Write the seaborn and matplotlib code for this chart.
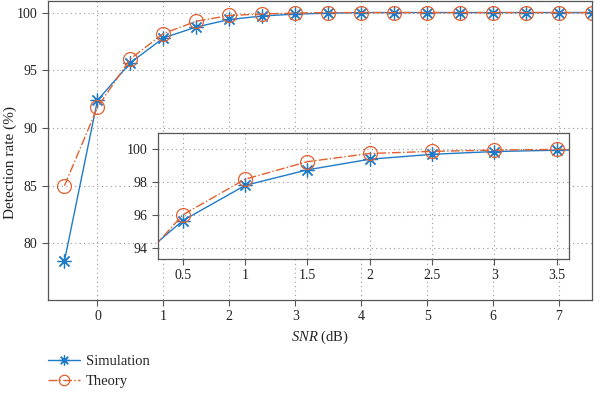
import numpy as np
import pandas as pd
import matplotlib
matplotlib.use('Agg')
import matplotlib.pyplot as plt
import seaborn as sns

# SNR grid (dB) and detection rates (%)
snr = [-0.5, 0, 0.5, 1, 1.5, 2, 2.5, 3, 3.5, 4, 4.5, 5, 5.5, 6, 6.5, 7, 7.5]
simulation = [78.5, 92.4, 95.65, 97.8, 98.75, 99.4, 99.7, 99.87, 99.95,
              100, 100, 100, 100, 100, 100, 100, 100]
theory = [85.0, 91.8, 96.0, 98.18, 99.25, 99.75, 99.88, 99.96, 100,
          100, 100, 100, 100, 100, 100, 100, 100]

main_xticks = [0, 1, 2, 3, 4, 5, 6, 7]
main_yticks = [80, 85, 90, 95, 100]
inset_xticks = [0.5, 1, 1.5, 2, 2.5, 3, 3.5]
inset_xlabels = ['0.5', '1', '1.5', '2', '2.5', '3', '3.5']
inset_yticks = [94, 96, 98, 100]

blue = '#1f7bc8'
orange = '#e3602f'

df = pd.DataFrame({'snr': snr, 'Simulation': simulation, 'Theory': theory})

sns.set_style('ticks')
plt.rcParams['font.family'] = ['Liberation Serif', 'DejaVu Serif']
plt.rcParams['mathtext.fontset'] = 'custom'
plt.rcParams['mathtext.it'] = 'Liberation Serif:italic'
plt.rcParams['mathtext.rm'] = 'Liberation Serif'
plt.rcParams['font.size'] = 10

fig = plt.figure(figsize=(6, 3.96), dpi=100)
ax = fig.add_axes([0.08, 0.2424, 0.9067, 0.755])


def draw(a, ms):
    sns.lineplot(data=df, x='snr', y='Simulation', ax=a, color=blue, lw=1,
                 marker=(8, 2, 0), markersize=ms, markeredgewidth=0.9,
                 markeredgecolor=blue, label='Simulation', clip_on=True)
    sns.lineplot(data=df, x='snr', y='Theory', ax=a, color=orange, lw=1,
                 linestyle='-.', marker='o', markersize=ms,
                 markerfacecolor='none', markeredgecolor=orange,
                 markeredgewidth=0.9, label='Theory')


def style(a):
    a.grid(True, linestyle=(0, (1, 3)), color='#999999', linewidth=0.8)
    for s in a.spines.values():
        s.set_color('#555555')
        s.set_linewidth(0.9)
    a.tick_params(direction='out', length=4, width=0.8, color='#555555',
                  labelsize=10, labelcolor='#222222')
    a.set_xlabel('')
    a.set_ylabel('')


draw(ax, 10)
style(ax)
ax.set_xlim(-0.75, 7.5)
ax.set_ylim(75.1, 101)
ax.set_xticks(main_xticks)
ax.set_yticks(main_yticks)
ax.set_xlabel(r'$\mathit{SNR}$ (dB)', fontsize=10.5, color='#222222')
ax.set_ylabel('Detection rate (%)', fontsize=11, color='#222222')
ax.yaxis.set_label_coords(-0.057, 0.46)
ax.get_legend().remove()

handles, labels = ax.get_legend_handles_labels()
fig.legend(handles, labels, loc='upper left', bbox_to_anchor=(0.08, 0.105),
           frameon=False, borderpad=0, borderaxespad=0, handlelength=2.2,
           handletextpad=0.4, labelspacing=0.5, fontsize=10.5,
           markerscale=0.75)

axin = fig.add_axes([0.2633, 0.346, 0.685, 0.318])
draw(axin, 10)
style(axin)
axin.set_facecolor('white')
axin.set_xlim(0.3, 3.6)
axin.set_ylim(93.3, 101)
axin.set_xticks(inset_xticks)
axin.set_xticklabels(inset_xlabels)
axin.set_yticks(inset_yticks)
axin.get_legend().remove()

fig.savefig('out.png', dpi=100)
